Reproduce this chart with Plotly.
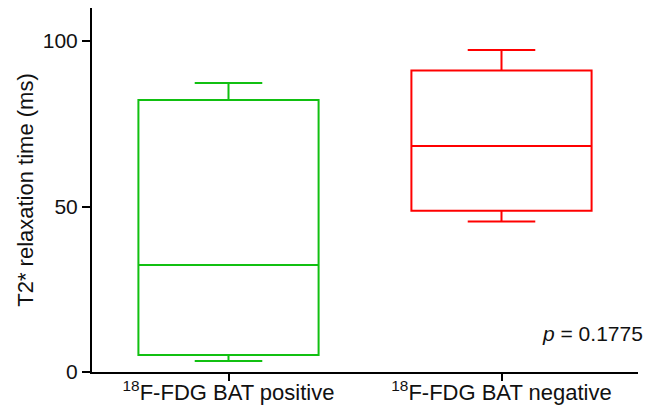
import plotly.graph_objects as go

# Summary statistics per group (T2* relaxation time, ms)
groups = ["<sup>18</sup>F-FDG BAT positive", "<sup>18</sup>F-FDG BAT negative"]
lower_whisker = [3.3, 45.5]
q1_values = [5.1, 48.7]
median_values = [32.3, 68.3]
q3_values = [82.2, 91.1]
upper_whisker = [87.3, 97.3]
colors = ["#11c011", "#ff0000"]
p_text = "<i>p</i> = 0.1775"

fig = go.Figure()
for i, name in enumerate(groups):
    fig.add_trace(go.Box(
        x=[name],
        q1=[q1_values[i]],
        median=[median_values[i]],
        q3=[q3_values[i]],
        lowerfence=[lower_whisker[i]],
        upperfence=[upper_whisker[i]],
        boxpoints=False,
        width=0.66,
        whiskerwidth=0.375,
        fillcolor="rgba(0,0,0,0)",
        line=dict(color=colors[i], width=2),
        hoverinfo="skip",
        showlegend=False,
    ))

font_family = "Liberation Sans, Arial, sans-serif"
fig.update_layout(
    width=654, height=407,
    margin=dict(l=92, r=16, t=8, b=35),
    paper_bgcolor="white", plot_bgcolor="white",
    font=dict(family=font_family, size=21, color="#111111"),
    xaxis=dict(
        range=[-0.5, 1.5],
        automargin=False,
        showline=True, linecolor="black", linewidth=2,
        ticks="outside", ticklen=7, tickwidth=2, tickcolor="black",
        ticklabelstandoff=-7,
        showgrid=False, zeroline=False,
        tickfont=dict(size=22),
    ),
    yaxis=dict(
        range=[0, 110],
        automargin=False,
        tickvals=[0, 50, 100],
        showline=True, linecolor="black", linewidth=2,
        ticks="outside", ticklen=8, tickwidth=2, tickcolor="black",
        showgrid=False, zeroline=False,
        tickfont=dict(size=21),
        title=dict(text="T2* relaxation time (ms)", font=dict(size=22), standoff=3),
    ),
    annotations=[dict(
        text=p_text, xref="paper", yref="y",
        x=1.013, y=11.7, xanchor="right", yanchor="middle",
        showarrow=False, font=dict(size=21, color="#111111"),
    )],
)

fig.write_html("out.html")
